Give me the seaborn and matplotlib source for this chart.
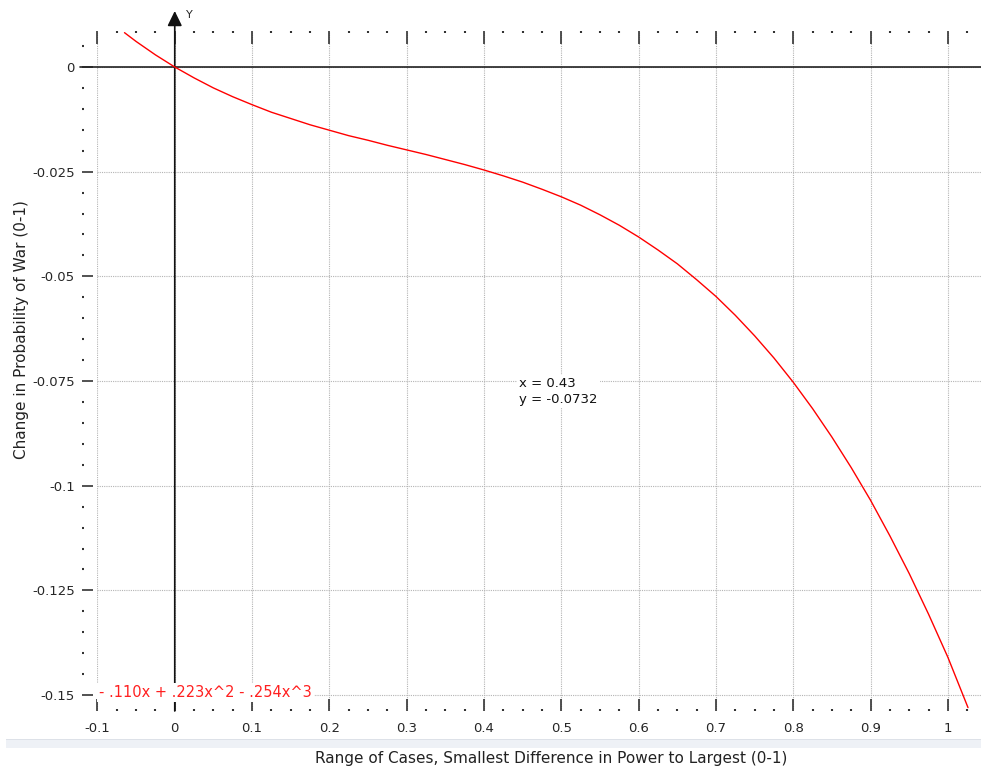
import numpy as np
import pandas as pd
import matplotlib
matplotlib.use("Agg")
import matplotlib.pyplot as plt
from matplotlib.patches import Rectangle
from matplotlib.ticker import FixedLocator, MultipleLocator
import seaborn as sns

# curve points
x_vals = [-0.065, -0.05, -0.025, 0.0, 0.025, 0.05, 0.075, 0.1, 0.125, 0.15, 0.175,
          0.2, 0.225, 0.25, 0.275, 0.3, 0.325, 0.35, 0.375, 0.4, 0.425, 0.45, 0.475,
          0.5, 0.525, 0.55, 0.575, 0.6, 0.625, 0.65, 0.675, 0.7, 0.725, 0.75, 0.775,
          0.8, 0.825, 0.85, 0.875, 0.9, 0.925, 0.95, 0.975, 1.0, 1.026]
y_vals = [0.0082, 0.0061, 0.0029, 0.0, -0.0026, -0.0050, -0.0071, -0.0090, -0.0108,
          -0.0123, -0.0138, -0.0151, -0.0164, -0.0175, -0.0187, -0.0198, -0.0209,
          -0.0221, -0.0233, -0.0246, -0.0260, -0.0275, -0.0292, -0.0310, -0.0330,
          -0.0353, -0.0378, -0.0406, -0.0437, -0.0470, -0.0508, -0.0548, -0.0593,
          -0.0642, -0.0695, -0.0753, -0.0816, -0.0884, -0.0957, -0.1035, -0.1120,
          -0.1210, -0.1307, -0.1410, -0.1530]

x_ticks = [-0.1, 0, 0.1, 0.2, 0.3, 0.4, 0.5, 0.6, 0.7, 0.8, 0.9, 1.0]
x_labels = ["-0.1", "0", "0.1", "0.2", "0.3", "0.4", "0.5", "0.6", "0.7", "0.8", "0.9", "1"]
y_ticks = [0, -0.025, -0.05, -0.075, -0.1, -0.125, -0.15]
y_labels = ["0", "-0.025", "-0.05", "-0.075", "-0.1", "-0.125", "-0.15"]

equation = "- .110x + .223x^2 - .254x^3"
point_note = "x = 0.43\ny = -0.0732"
x_title = "Range of Cases, Smallest Difference in Power to Largest (0-1)"
y_title = "Change in Probability of War (0-1)"

sns.set_style("white")
plt.rcParams["font.family"] = ["DejaVu Sans"]
plt.rcParams["axes.unicode_minus"] = False

df = pd.DataFrame({"x": x_vals, "y": y_vals})

W, H = 981, 772
fig = plt.figure(figsize=(W / 100, H / 100), dpi=100)
ax = fig.add_axes([97 / W, 1 - 711 / H, 1 - 97 / W, (711 - 31) / H])

x0 = (97 - 174.4) / 773.5
x1 = (981 - 174.4) / 773.5
y_top = (67 - 31) / 4187
y_bot = -(711 - 67) / 4187
ax.set_xlim(x0 - 0.0005, x1)
ax.set_ylim(y_bot, y_top)

sns.lineplot(data=df, x="x", y="y", ax=ax, color="#ff0000", linewidth=1.0,
             sort=False, estimator=None, zorder=3)

for s in ax.spines.values():
    s.set_visible(False)
ax.spines["left"].set_position(("outward", 11))

ax.xaxis.set_major_locator(FixedLocator(x_ticks))
ax.set_xticklabels(x_labels)
ax.xaxis.set_minor_locator(MultipleLocator(0.025))
ax.yaxis.set_major_locator(FixedLocator(y_ticks))
ax.set_yticklabels(y_labels)
ax.yaxis.set_minor_locator(MultipleLocator(0.005))

ax.tick_params(axis="x", which="major", direction="in", length=9, width=1.2,
               color="#333333", top=True, bottom=True, labeltop=False,
               labelsize=9.5, pad=8)
ax.tick_params(axis="x", which="minor", direction="in", length=1.5, width=1.5,
               color="#333333", top=True, bottom=True)
ax.tick_params(axis="y", which="major", direction="in", length=8, width=1.2,
               color="#333333", left=True, labelleft=True, labelsize=9.5, pad=5)
ax.tick_params(axis="y", which="minor", direction="in", length=1.5, width=1.5,
               color="#333333", left=True)
ax.set_xlabel("")
ax.set_ylabel("")

ax.grid(True, which="major", color="#b4b4b4", linestyle=(0, (1, 1)), linewidth=0.8)
ax.set_axisbelow(True)

# coordinate axes
ax.axhline(0, xmin=(80 - 97) / (W - 97), xmax=1, color="#222222", linewidth=1.2,
           clip_on=False, zorder=2)
y_arrow = (67 - 11) / 4187
ax.annotate("", xy=(0, y_arrow), xytext=(0, y_bot), xycoords="data",
            arrowprops=dict(arrowstyle="-|>,head_length=0.45,head_width=0.22",
                            color="#111111", linewidth=1.2, mutation_scale=20,
                            shrinkA=0, shrinkB=0),
            annotation_clip=False, zorder=2)
fig.text(186 / W, 1 - 15 / H, "Y", fontsize=8, ha="left", va="center")

ax.text(x0 + 0.002, -0.1495, equation, color="#ff2020", fontsize=10.5, ha="left",
        va="center", zorder=5,
        bbox=dict(facecolor="white", edgecolor="none", pad=1.5))
ax.text(0.4455, -0.0741, point_note, color="#111111", fontsize=9.5, ha="left",
        va="top", linespacing=1.25, zorder=5,
        bbox=dict(facecolor="white", edgecolor="none", pad=1.5))

# panel strip below the graphics view
fig.patches.append(Rectangle((6 / W, 1 - 748 / H), 1, 9 / H, transform=fig.transFigure,
                             facecolor="#eef1f6", edgecolor="none"))
fig.patches.append(Rectangle((6 / W, 1 - 740 / H), 1, 1 / H, transform=fig.transFigure,
                             facecolor="#dde1e8", edgecolor="none"))

fig.text(551 / W, 1 - 758 / H, x_title, fontsize=11, ha="center", va="center",
         color="#222222")
fig.text(22 / W, 1 - 330 / H, y_title, fontsize=11, ha="center", va="center",
         rotation=90, color="#222222")

fig.savefig("out.png", dpi=100)
